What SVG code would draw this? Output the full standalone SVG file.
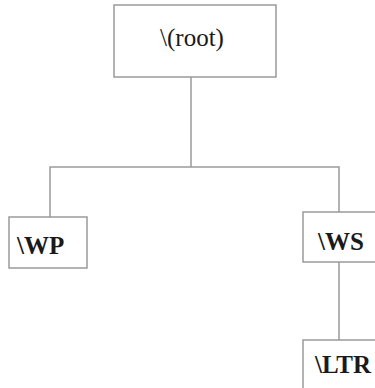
<svg xmlns="http://www.w3.org/2000/svg" width="375" height="388" viewBox="0 0 375 388">
  <style>
    .box { fill: #ffffff; stroke: #9a9a9a; stroke-width: 1.5; }
    .edge { fill: none; stroke: #9a9a9a; stroke-width: 1.5; }
    .lbl { font-family: "Liberation Serif", "Times New Roman", serif; font-size: 25px; fill: #1a1a1a; }
    .b { font-weight: bold; }
  </style>
  <rect width="375" height="388" fill="#ffffff"/>
  <g id="connectors">
    <line class="edge" x1="191" y1="77" x2="191" y2="167"/>
    <polyline class="edge" points="50,217 50,167 339,167 339,212"/>
    <line class="edge" x1="339" y1="262" x2="339" y2="340"/>
  </g>
  <g id="root">
    <rect class="box" x="114" y="5" width="162" height="72"/>
    <text class="lbl" x="192" y="46" text-anchor="middle">\(root)</text>
  </g>
  <g id="wp">
    <rect class="box" x="9" y="217" width="78" height="51"/>
    <text class="lbl b" x="17" y="254">\WP</text>
  </g>
  <g id="ws">
    <rect class="box" x="303" y="212" width="80" height="50"/>
    <text class="lbl b" x="318" y="250">\WS</text>
  </g>
  <g id="ltr">
    <rect class="box" x="303" y="340" width="80" height="60"/>
    <text class="lbl b" x="315" y="373">\LTR</text>
  </g>
</svg>
